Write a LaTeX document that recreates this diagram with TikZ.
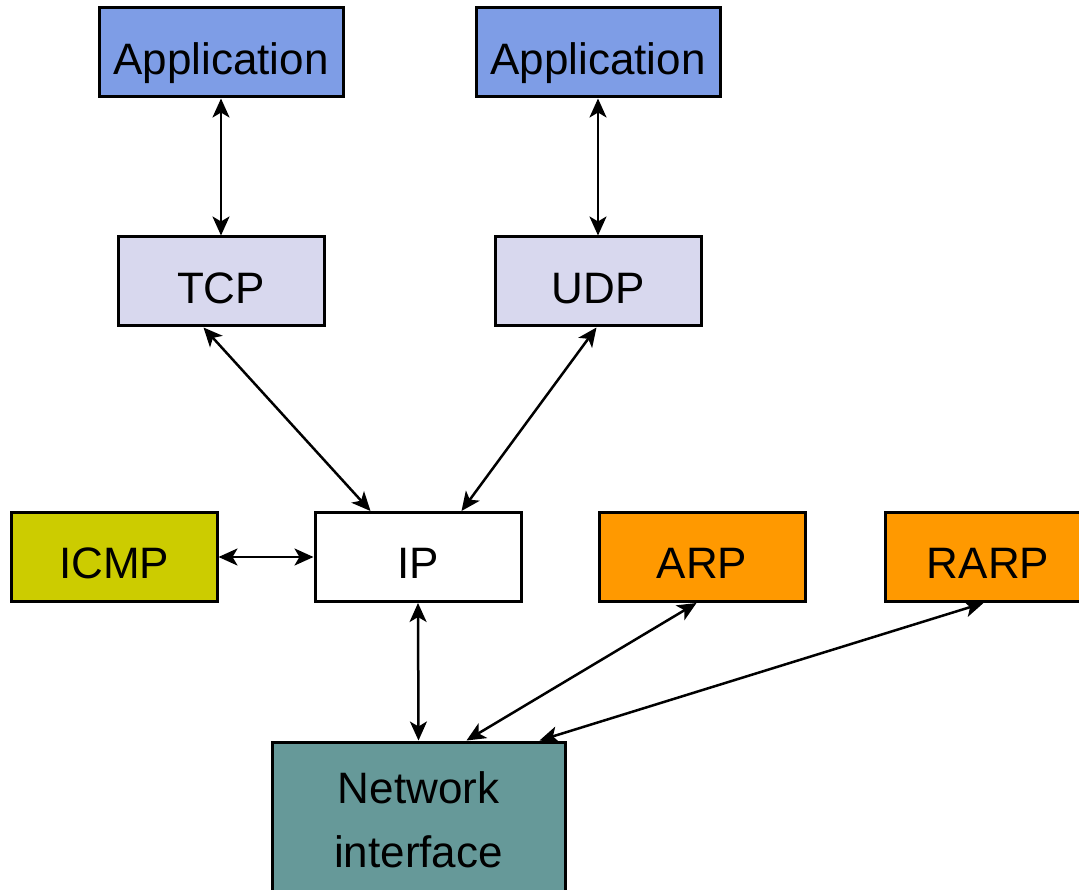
\documentclass[tikz,border=0pt]{standalone}
\usepackage{fontspec}
\setmainfont{Liberation Sans}
\usetikzlibrary{arrows.meta}
\definecolor{appblue}{HTML}{7E9DE6}
\definecolor{lav}{HTML}{D8D8EE}
\definecolor{icmpc}{HTML}{CCCC00}
\definecolor{arpc}{HTML}{FF9900}
\definecolor{nic}{HTML}{669999}
\tikzset{
  box/.style={draw=black, line width=3pt, minimum width=206pt, minimum height=89pt, inner sep=0pt, text height=43.5pt, text depth=0pt, font=\fontsize{44}{50}\selectfont},
  appbox/.style={box, fill=appblue, minimum width=244pt}
}
\begin{document}
\begin{tikzpicture}[x=1pt,y=-1pt]
\useasboundingbox (0,0) rectangle (1079,890);
\clip (0,0) rectangle (1079,890);
\node[appbox] (app1) at (221,52.5) {Application};
\node[appbox] (app2) at (598,52.5) {Application};
\node[box, fill=lav] (tcp) at (221,281.5) {TCP};
\node[box, fill=lav] (udp) at (598,281.5) {UDP};
\node[box, fill=icmpc] (icmp) at (114,557) {ICMP};
\node[box, fill=white] (ip) at (418,557) {IP};
\node[box, fill=arpc] (arp) at (702,557) {ARP};
\node[box, fill=arpc] (rarp) at (988,557) {RARP};
\node[draw=black, line width=3pt, fill=nic, minimum width=293pt, minimum height=180pt, inner sep=0pt] (ni) at (418.5,832) {};
\node[font=\fontsize{44}{64}\selectfont, align=center] (nitext) at (418.5,820) {Network\\interface};
\draw[line width=2.5pt, {Stealth[length=19pt,width=17pt,inset=5pt]}-{Stealth[length=19pt,width=17pt,inset=5pt]}] (app1.south) -- (tcp.north);
\draw[line width=2.5pt, {Stealth[length=19pt,width=17pt,inset=5pt]}-{Stealth[length=19pt,width=17pt,inset=5pt]}] (app2.south) -- (udp.north);
\draw[line width=2.5pt, {Stealth[length=19pt,width=17pt,inset=5pt]}-{Stealth[length=19pt,width=17pt,inset=5pt]}] ([xshift=87pt]tcp.south west) -- ([xshift=57pt]ip.north west);
\draw[line width=2.5pt, {Stealth[length=19pt,width=17pt,inset=5pt]}-{Stealth[length=19pt,width=17pt,inset=5pt]}] ([xshift=103pt]udp.south west) -- ([xshift=148pt]ip.north west);
\draw[line width=2.5pt, {Stealth[length=19pt,width=17pt,inset=5pt]}-{Stealth[length=19pt,width=17pt,inset=5pt]}] (icmp.east) -- (ip.west);
\draw[line width=2.5pt, {Stealth[length=19pt,width=17pt,inset=5pt]}-{Stealth[length=19pt,width=17pt,inset=5pt]}] (ip.south) -- (ni.north);
\draw[line width=2.5pt, {Stealth[length=19pt,width=17pt,inset=5pt]}-{Stealth[length=19pt,width=17pt,inset=5pt]}] ([xshift=99pt]arp.south west) -- ([xshift=196pt]ni.north west);
\draw[line width=2.5pt, {Stealth[length=19pt,width=17pt,inset=5pt]}-{Stealth[length=19pt,width=17pt,inset=5pt]}] ([xshift=100pt]rarp.south west) -- ([xshift=269pt]ni.north west);
\end{tikzpicture}
\end{document}
